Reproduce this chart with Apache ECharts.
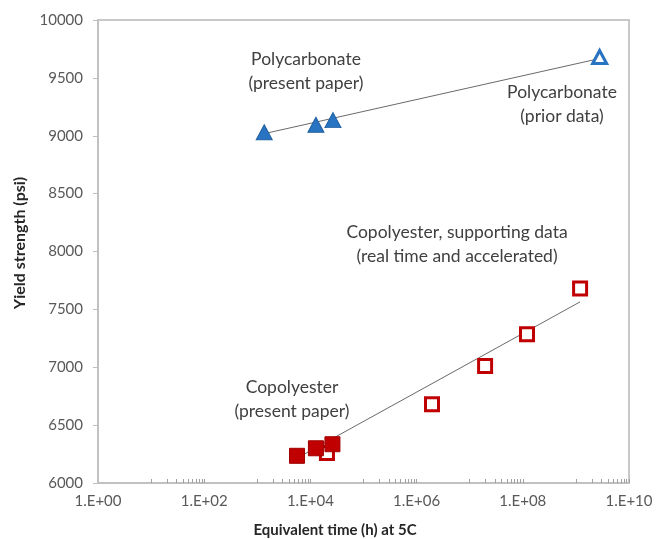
<!DOCTYPE html>
<html>
<head>
<meta charset="utf-8">
<script src="https://cdn.jsdelivr.net/npm/echarts@6/dist/echarts.min.js"></script>
<style>
  html, body { margin: 0; padding: 0; background: #fff; }
  #chart { width: 657px; height: 539px; }
</style>
</head>
<body>
<div id="chart"></div>
<script>
// Polycarbonate yield strength vs equivalent ageing time
const pcPresentTime = [1350, 12700, 26600];
const pcPresentYield = [9030, 9095, 9135];
const pcPriorTime = [2.8e9];
const pcPriorYield = [9680];
const pcTrendTime = [1350, 2.5e9];
const pcTrendYield = [9018, 9662];

// Copolyester yield strength vs equivalent ageing time
const copPresentTime = [5600, 12700, 26000];
const copPresentYield = [6235, 6300, 6335];
const copSupportTime = [20500, 1.95e6, 1.95e7, 1.2e8, 1.2e9];
const copSupportYield = [6260, 6680, 7010, 7285, 7680];
const copTrendTime = [4900, 1.2e9];
const copTrendYield = [6200, 7565];

// Axis ticks
const xLabelValues = [1, 1e2, 1e4, 1e6, 1e8, 1e10];
const yMin = 6000, yMax = 10000, yStep = 500;

// Minor log ticks: 10..100 times each labelled decade
const xMinorTicks = [];
for (const base of [1, 1e2, 1e4, 1e6, 1e8]) {
  for (let m = 10; m <= 100; m += 10) xMinorTicks.push(base * m);
}

const zip = (xs, ys) => xs.map((x, i) => [x, ys[i]]);

const FONT = 'Lato, "Open Sans", sans-serif';
const blue = '#2873c2';
const red = '#c00000';

const chart = echarts.init(document.getElementById('chart'), null, { renderer: 'canvas' });

chart.setOption({
  animation: false,
  backgroundColor: '#ffffff',
  grid: {
    left: 98, right: 28, top: 20, bottom: 56,
    show: true, borderColor: '#c8c8c8', borderWidth: 2, backgroundColor: 'transparent'
  },
  xAxis: {
    type: 'log',
    logBase: 10,
    min: 1,
    max: 1e10,
    axisLine: { show: true, lineStyle: { color: '#bfbfbf', width: 1.5 } },
    axisTick: {
      show: true, inside: true, length: 4,
      customValues: xMinorTicks,
      lineStyle: { color: '#a0a0a0', width: 1 }
    },
    axisLabel: {
      customValues: xLabelValues,
      margin: 11,
      color: '#595959',
      fontFamily: FONT,
      fontSize: 15,
      formatter: v => '1.E+' + String(Math.round(Math.log10(v))).padStart(2, '0')
    },
    splitLine: { show: false }
  },
  yAxis: {
    type: 'value',
    min: yMin,
    max: yMax,
    interval: yStep,
    axisLine: { show: true, lineStyle: { color: '#bfbfbf', width: 1.5 } },
    axisTick: { show: true, length: 5, lineStyle: { color: '#bfbfbf' } },
    axisLabel: {
      margin: 15,
      color: '#595959',
      fontFamily: FONT,
      fontSize: 15,
      formatter: v => String(v)
    },
    splitLine: { show: false }
  },
  series: [
    {
      name: 'PC trend',
      type: 'line',
      data: zip(pcTrendTime, pcTrendYield),
      symbol: 'none',
      lineStyle: { color: '#6a6a6a', width: 1 },
      z: 1
    },
    {
      name: 'Copolyester trend',
      type: 'line',
      data: zip(copTrendTime, copTrendYield),
      symbol: 'none',
      lineStyle: { color: '#6a6a6a', width: 1 },
      z: 1
    },
    {
      name: 'Copolyester, supporting data',
      type: 'scatter',
      data: zip(copSupportTime, copSupportYield),
      symbol: 'rect',
      symbolSize: 13,
      itemStyle: { color: '#ffffff', borderColor: red, borderWidth: 3, opacity: 1 },
      z: 2
    },
    {
      name: 'Copolyester (present paper)',
      type: 'scatter',
      data: zip(copPresentTime, copPresentYield),
      symbol: 'rect',
      symbolSize: 15,
      itemStyle: { color: red, borderColor: '#a00000', borderWidth: 1, opacity: 1 },
      z: 3
    },
    {
      name: 'Polycarbonate (present paper)',
      type: 'scatter',
      data: zip(pcPresentTime, pcPresentYield),
      symbol: 'triangle',
      symbolSize: [16, 15],
      itemStyle: { color: blue, borderColor: '#1f5f9f', borderWidth: 1, opacity: 1 },
      z: 3
    },
    {
      name: 'Polycarbonate (prior data)',
      type: 'scatter',
      data: zip(pcPriorTime, pcPriorYield),
      symbol: 'triangle',
      symbolSize: [14, 13],
      itemStyle: { color: '#ffffff', borderColor: blue, borderWidth: 3, opacity: 1 },
      z: 3
    }
  ],
  graphic: [
    {
      type: 'text', x: 20, y: 243,
      rotation: Math.PI / 2,
      style: {
        text: 'Yield strength (psi)', fill: '#262626',
        font: 'bold 16px ' + FONT, align: 'center', verticalAlign: 'middle'
      }
    },
    {
      type: 'text', x: 335, y: 530,
      style: {
        text: 'Equivalent time (h) at 5C', fill: '#262626',
        font: 'bold 15px ' + FONT, align: 'center', verticalAlign: 'middle'
      }
    },
    {
      type: 'text', x: 306, y: 71,
      style: {
        text: 'Polycarbonate\n(present paper)', fill: '#404040',
        font: '17.5px ' + FONT, align: 'center', verticalAlign: 'middle', lineHeight: 24
      }
    },
    {
      type: 'text', x: 562, y: 104,
      style: {
        text: 'Polycarbonate\n(prior data)', fill: '#404040',
        font: '17.5px ' + FONT, align: 'center', verticalAlign: 'middle', lineHeight: 24
      }
    },
    {
      type: 'text', x: 457, y: 244,
      style: {
        text: 'Copolyester, supporting data\n(real time and accelerated)', fill: '#404040',
        font: '17.5px ' + FONT, align: 'center', verticalAlign: 'middle', lineHeight: 24
      }
    },
    {
      type: 'text', x: 292, y: 399,
      style: {
        text: 'Copolyester\n(present paper)', fill: '#404040',
        font: '17.5px ' + FONT, align: 'center', verticalAlign: 'middle', lineHeight: 24
      }
    }
  ]
});
</script>
</body>
</html>
